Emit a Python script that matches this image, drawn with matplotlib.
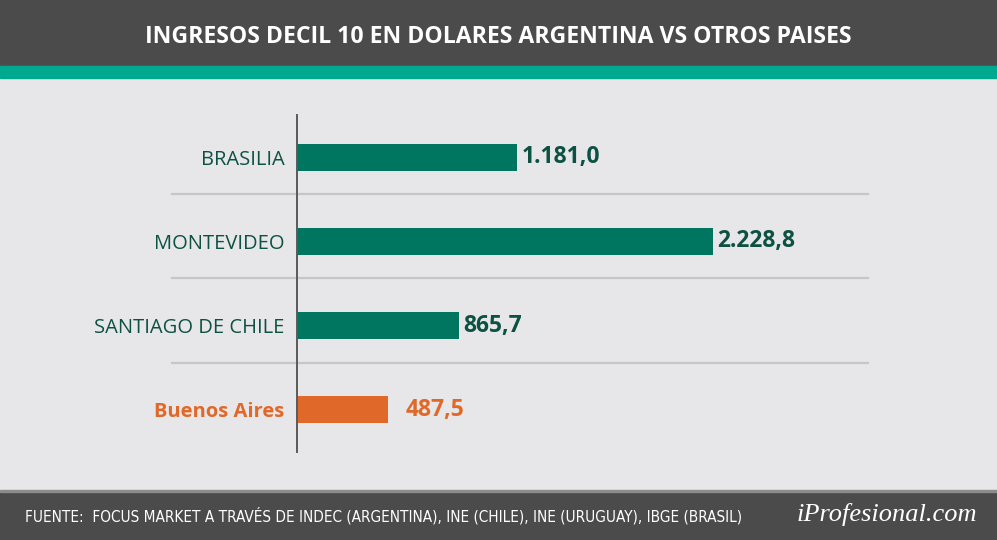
import matplotlib
matplotlib.use('Agg')
import matplotlib.pyplot as plt
from matplotlib.patches import Rectangle

ciudades = ['BRASILIA', 'MONTEVIDEO', 'SANTIAGO DE CHILE', 'Buenos Aires']
ingresos = [1181.0, 2228.8, 865.7, 487.5]
etiquetas = ['1.181,0', '2.228,8', '865,7', '487,5']

titulo = 'INGRESOS DECIL 10 EN DOLARES ARGENTINA VS OTROS PAISES'
fuente = 'FUENTE:  FOCUS MARKET A TRAVÉS DE INDEC (ARGENTINA), INE (CHILE), INE (URUGUAY), IBGE (BRASIL)'
marca = 'iProfesional.com'

VERDE = '#00755f'
VERDE_TXT = '#0d5142'
NARANJA = '#e0692a'
GRIS = '#4b4b4b'

W, H = 997, 540
fig = plt.figure(figsize=(W / 100, H / 100), dpi=100)
fig.patch.set_facecolor('#e7e7e9')


def fy(px):
    return 1 - px / H


# bandas de titulo y pie
fig.patches.append(Rectangle((0, fy(66)), 1, 66 / H, transform=fig.transFigure, color=GRIS, zorder=0))
fig.patches.append(Rectangle((0, fy(78)), 1, 12 / H, transform=fig.transFigure, color='#00a88f', zorder=0))
fig.patches.append(Rectangle((0, 0), 1, 49 / H, transform=fig.transFigure, color=GRIS, zorder=0))
fig.patches.append(Rectangle((0, fy(492)), 1, 2 / H, transform=fig.transFigure, color='#8c8c8c', zorder=0))

fig.text(0.5, fy(37), titulo, ha='center', va='center', color='white',
         fontsize=16.6, fontweight='bold', family='Open Sans')

ax = fig.add_axes([297 / W, fy(452), 571 / W, (452 - 115) / H])
ax.set_facecolor('none')

posiciones = list(range(len(ciudades)))
colores = [VERDE] * (len(ciudades) - 1) + [NARANJA]
ax.barh(posiciones, ingresos, height=0.32, color=colores, zorder=3)

ax.set_xlim(0, 571 / 0.1867)
ax.set_ylim(3.5, -0.5)

# lineas separadoras
for p in posiciones[:-1]:
    ax.axhline(p + 0.44, xmin=-0.219, xmax=1, color='#c6c6c8', lw=1.6,
               clip_on=False, zorder=1)

for s in ['top', 'right', 'bottom']:
    ax.spines[s].set_visible(False)
ax.spines['left'].set_color('#5a5a5a')
ax.spines['left'].set_linewidth(1.4)
ax.spines['left'].set_zorder(4)
ax.set_xticks([])
ax.set_yticks(posiciones)
ax.set_yticklabels(ciudades, fontsize=14.5, family='Open Sans')
ax.tick_params(axis='y', length=0, pad=9)
for lbl, c in zip(ax.get_yticklabels(), colores):
    if c == NARANJA:
        lbl.set_color(NARANJA)
        lbl.set_fontweight('bold')
    else:
        lbl.set_color(VERDE_TXT)

for p, v, t, c in zip(posiciones, ingresos, etiquetas, colores):
    if c == NARANJA:
        ax.annotate(t, (v, p), xytext=(13, 0), textcoords='offset points',
                    va='center', ha='left', fontsize=16.5, fontweight='bold',
                    color=NARANJA, family='Open Sans')
    else:
        ax.annotate(t, (v, p), xytext=(3, 0), textcoords='offset points',
                    va='center', ha='left', fontsize=16.5, fontweight='bold',
                    color=VERDE_TXT, family='Open Sans')

fig.text(25 / W, fy(516), fuente, ha='left', va='center', color='white',
         fontsize=11, family='DejaVu Sans', fontstretch='condensed')
fig.text(977 / W, fy(515), marca, ha='right', va='center', color='white',
         fontsize=19, family='Liberation Serif', style='italic')

fig.savefig('out.png', dpi=100, facecolor=fig.get_facecolor())
